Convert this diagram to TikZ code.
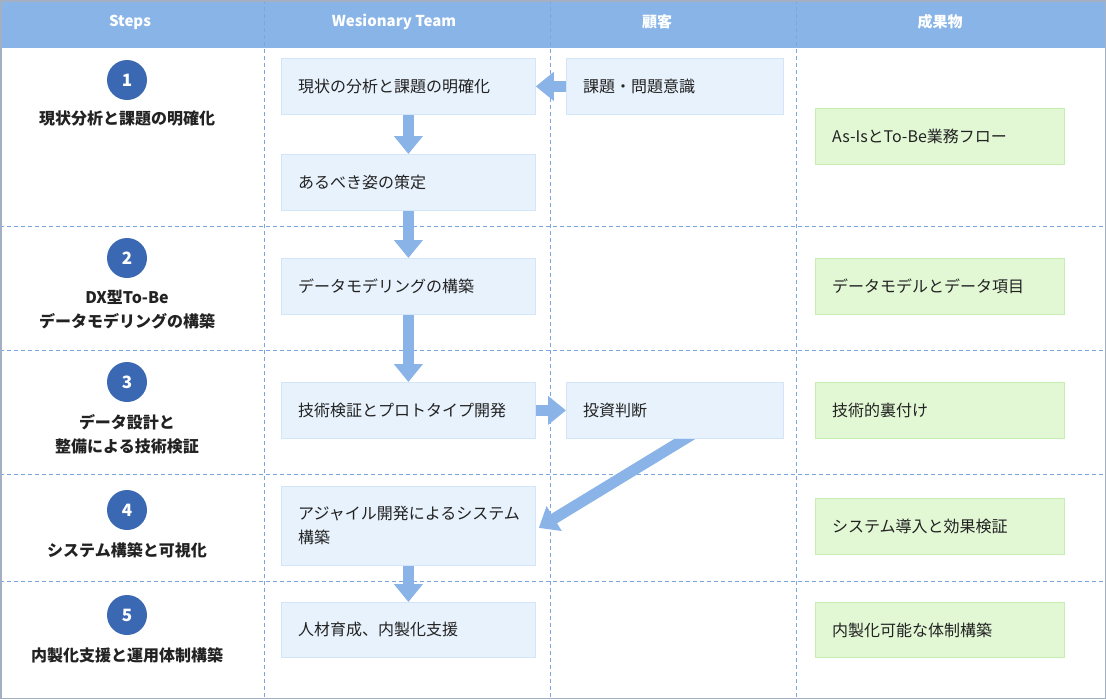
\documentclass[tikz,border=0pt]{standalone}
\usepackage{fontspec}
\setmainfont{Noto Sans CJK JP}
\usetikzlibrary{arrows.meta,calc}
\definecolor{hdr}{HTML}{88B4E7}
\definecolor{outerc}{HTML}{A3AFC2}
\definecolor{dashc}{HTML}{7AA6DF}
\definecolor{bboxf}{HTML}{E8F2FC}
\definecolor{bboxd}{HTML}{D3E5F8}
\definecolor{gboxf}{HTML}{E2F8D5}
\definecolor{gboxd}{HTML}{C6EDB2}
\definecolor{arrowc}{HTML}{8AB4E8}
\definecolor{stepc}{HTML}{3A68B2}
\definecolor{txt}{HTML}{222222}
\pgfdeclarelayer{background}
\pgfsetlayers{background,main}
\tikzset{
  hdrtext/.style={text=white, font=\bfseries\fontsize{15}{16}\selectfont, anchor=center, inner sep=0pt},
  divline/.style={draw=dashc, line width=0.8pt, dash pattern=on 4pt off 3pt},
  bluebox/.style={draw=bboxd, fill=bboxf, line width=0.8pt, minimum width=254pt, minimum height=56pt, anchor=north west, inner sep=0pt},
  custbox/.style={bluebox, minimum width=217pt},
  greenbox/.style={draw=gboxd, fill=gboxf, line width=0.8pt, minimum width=249pt, minimum height=56pt, anchor=north west, inner sep=0pt},
  boxtext/.style={anchor=west, inner sep=0pt, text=txt, align=left, font=\fontsize{16}{24}\selectfont},
  stepcirc/.style={circle, fill=stepc, minimum size=40pt, inner sep=0pt, text=white, font=\bfseries\fontsize{17}{17}\selectfont},
  steplab/.style={anchor=center, inner sep=0pt, text=txt, align=center, font=\bfseries\fontsize{16}{24}\selectfont},
  flow/.style={draw=arrowc, line width=11pt, -{Triangle[length=18pt,width=28pt]}},
  outerline/.style={draw=outerc, line width=1.5pt}
}
\begin{document}
\begin{tikzpicture}[x=1pt,y=-1pt]
\useasboundingbox (0,0) rectangle (1106,699);

% header texts
\node[hdrtext] (h1) at (130,22) {Steps};
\node[hdrtext] (h2) at (394,22) {Wesionary Team};
\node[hdrtext] (h3) at (657,22) {顧客};
\node[hdrtext] (h4) at (940,22) {成果物};

% Wesionary Team boxes
\node[bluebox] (b1) at (281,58) {};
\node[boxtext] at ($(b1.west)+(17,0)$) {現状の分析と課題の明確化};
\node[bluebox] (b2) at (281,154) {};
\node[boxtext] at ($(b2.west)+(17,0)$) {あるべき姿の策定};
\node[bluebox] (b3) at (281,258) {};
\node[boxtext] at ($(b3.west)+(17,0)$) {データモデリングの構築};
\node[bluebox] (b4) at (281,382) {};
\node[boxtext] at ($(b4.west)+(17,0)$) {技術検証とプロトタイプ開発};
\node[bluebox, minimum height=79pt] (b5) at (281,486) {};
\node[boxtext] at ($(b5.west)+(17,0)$) {アジャイル開発によるシステム\\構築};
\node[bluebox, minimum height=55pt] (b6) at (281,602) {};
\node[boxtext] at ($(b6.west)+(17,0)$) {人材育成、内製化支援};

% customer boxes
\node[custbox] (c1) at (566,58) {};
\node[boxtext] at ($(c1.west)+(17,0)$) {課題・問題意識};
\node[custbox] (c2) at (566,382) {};
\node[boxtext] at ($(c2.west)+(17,0)$) {投資判断};

% deliverables
\node[greenbox] (d1) at (815,108) {};
\node[boxtext] at ($(d1.west)+(17,0)$) {As-IsとTo-Be業務フロー};
\node[greenbox] (d2) at (815,258) {};
\node[boxtext] at ($(d2.west)+(17,0)$) {データモデルとデータ項目};
\node[greenbox] (d3) at (815,382) {};
\node[boxtext] at ($(d3.west)+(17,0)$) {技術的裏付け};
\node[greenbox] (d4) at (815,498) {};
\node[boxtext] at ($(d4.west)+(17,0)$) {システム導入と効果検証};
\node[greenbox, minimum height=55pt] (d5) at (815,602) {};
\node[boxtext] at ($(d5.west)+(17,0)$) {内製化可能な体制構築};

% steps
\node[stepcirc] (s1) at (127,80) {1};
\node[steplab] (l1) at (127,118) {現状分析と課題の明確化};
\node[stepcirc] (s2) at (127,258) {2};
\node[steplab] (l2) at (127,310) {DX型To-Be\\データモデリングの構築};
\node[stepcirc] (s3) at (127,382) {3};
\node[steplab] (l3) at (127,434) {データ設計と\\整備による技術検証};
\node[stepcirc] (s4) at (127,510) {4};
\node[steplab] (l4) at (127,550) {システム構築と可視化};
\node[stepcirc] (s5) at (127,615) {5};
\node[steplab] (l5) at (127,655) {内製化支援と運用体制構築};

\coordinate (ds) at ($(c2.south)+(20,-6)$);
\coordinate (de) at ($(b5.east)+(3,2)$);

\begin{pgfonlayer}{background}
  \fill[white] (0,48) rectangle (1106,699);
  \fill[hdr] (0,0) rectangle (1106,48);
  \draw[divline] (264,0) -- (264,699);
  \draw[divline] (550,0) -- (550,699);
  \draw[divline] (796,0) -- (796,699);
  \draw[divline] (0,226) -- (1106,226);
  \draw[divline] (0,350) -- (1106,350);
  \draw[divline] (0,474) -- (1106,474);
  \draw[divline] (0,581) -- (1106,581);
  \draw[flow] (c1.west) -- (b1.east);
  \draw[flow] (b1.south) -- (b2.north);
  \draw[flow] (b2.south) -- (b3.north);
  \draw[flow] (b3.south) -- (b4.north);
  \draw[flow] (b4.east) -- (c2.west);
  \draw[flow] (ds) -- (de);
  \draw[flow] (b5.south) -- (b6.north);
\end{pgfonlayer}

\draw[outerline] (0.75,0.75) rectangle (1105.25,698.25);
\end{tikzpicture}
\end{document}
